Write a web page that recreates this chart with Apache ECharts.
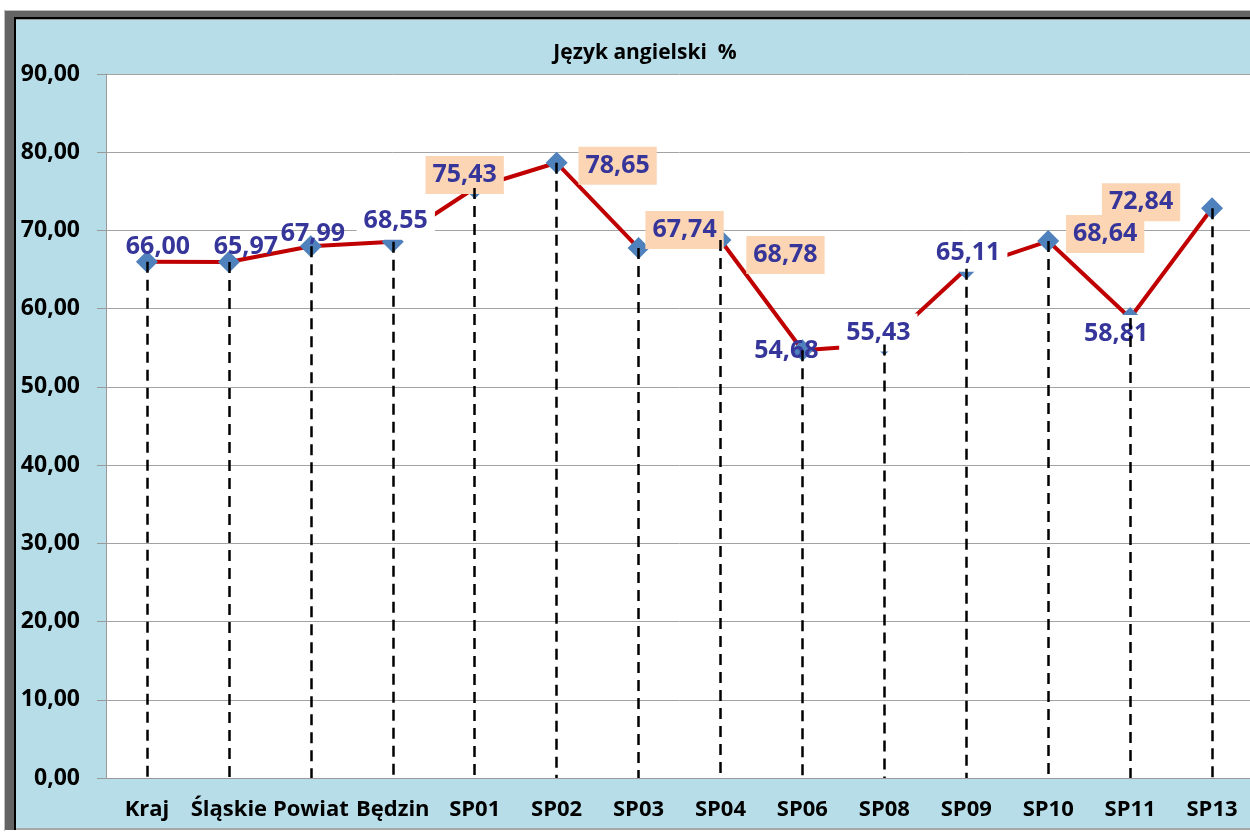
<!DOCTYPE html>
<html>
<head>
<meta charset="utf-8">
<script src="https://cdn.jsdelivr.net/npm/echarts@6/dist/echarts.min.js"></script>
<style>
  html, body { margin: 0; padding: 0; background: #fff; overflow: hidden; width: 1250px; height: 832px; }
  .frame1 { position: absolute; left: 4px; top: 10px; width: 1260px; height: 820px; border-top: 1px solid #bdbdbd; border-left: 1px solid #bdbdbd; }
  .frame2 { border-top: 6px solid #646464; border-left: 9px solid #646464; height: 813px; }
  .frame3 { border-top: 2px solid #000; border-left: 2px solid #000; height: 811px; }
  .frame4 { border-top: 1px solid #9a9a9a; border-bottom: 2px solid #a8a8a8; height: 808px; }
  #chart { width: 1237px; height: 808px; }
</style>
</head>
<body>
<div class="frame1"><div class="frame2"><div class="frame3"><div class="frame4">
  <div id="chart"></div>
</div></div></div></div>
<script>
const categories = ['Kraj', 'Śląskie', 'Powiat', 'Będzin', 'SP01', 'SP02', 'SP03', 'SP04', 'SP06', 'SP08', 'SP09', 'SP10', 'SP11', 'SP13'];
const values = [66.00, 65.97, 67.99, 68.55, 75.43, 78.65, 67.74, 68.78, 54.68, 55.43, 65.11, 68.64, 58.81, 72.84];
const yTicks = [0, 10, 20, 30, 40, 50, 60, 70, 80, 90];

// label placement (Excel moved them around by hand)
const labelOffsets = [[11, -15], [17, -15], [2, -12], [3, -21], [-10, -13], [61, 3], [46, -18],
  [65, 15], [-16, 1], [-6, -12], [2, -16], [57, -7], [-14, 16], [-71, -6]];
const PEACH = '#FCD5B4';
const labelFills = ['transparent', 'transparent', 'transparent', '#fff', PEACH, PEACH, PEACH,
  PEACH, 'transparent', '#fff', '#fff', PEACH, '#fff', PEACH];

const fmt = v => v.toFixed(2).replace('.', ',');
const FONT = 'Open Sans';

const chart = echarts.init(document.getElementById('chart'));

chart.setOption({
  backgroundColor: '#B7DDE8',
  animation: false,
  title: {
    text: 'Język angielski  %',
    left: 624,
    top: 18,
    textAlign: 'center',
    textStyle: { fontFamily: FONT, fontSize: 21, fontWeight: 'bold', color: '#000' }
  },
  grid: {
    left: 90,
    right: 0,
    top: 54,
    bottom: 50,
    show: true,
    backgroundColor: '#fff',
    borderWidth: 0
  },
  xAxis: {
    type: 'category',
    data: categories,
    boundaryGap: true,
    axisLine: { lineStyle: { color: '#9a9a9a', width: 1 } },
    axisTick: { show: false },
    axisLabel: {
      interval: 0,
      margin: 21,
      fontFamily: FONT,
      fontSize: 22,
      fontWeight: 'bold',
      color: '#000'
    }
  },
  yAxis: {
    type: 'value',
    min: yTicks[0],
    max: yTicks[yTicks.length - 1],
    interval: 10,
    axisLine: { show: true, lineStyle: { color: '#9a9a9a', width: 1 } },
    axisTick: { show: true, length: 9, lineStyle: { color: '#9a9a9a' } },
    splitLine: { lineStyle: { color: '#a3a3a3', width: 1 } },
    axisLabel: {
      margin: 26,
      formatter: fmt,
      fontFamily: FONT,
      fontSize: 23,
      fontWeight: 'bold',
      color: '#000'
    }
  },
  series: [
    {
      // dashed drop lines
      type: 'line',
      data: [],
      z: 1,
      silent: true,
      markLine: {
        silent: true,
        symbol: ['none', 'none'],
        label: { show: false },
        lineStyle: { color: '#000', width: 2.5, type: [11, 7] },
        data: values.map((v, i) => [{ coord: [i, v] }, { coord: [i, 0] }])
      }
    },
    {
      name: 'Język angielski',
      type: 'line',
      z: 3,
      data: values.map((v, i) => ({
        value: v,
        label: {
          offset: labelOffsets[i],
          backgroundColor: labelFills[i]
        }
      })),
      symbol: 'diamond',
      symbolSize: 22,
      itemStyle: { color: '#4F81BD' },
      lineStyle: { color: '#C00000', width: 4 },
      label: {
        show: true,
        position: 'inside',
        formatter: p => fmt(p.value),
        fontFamily: FONT,
        fontSize: 25,
        fontWeight: 'bold',
        color: '#35359A',
        padding: [7, 7, 6, 7]
      }
    }
  ]
});
</script>
</body>
</html>
